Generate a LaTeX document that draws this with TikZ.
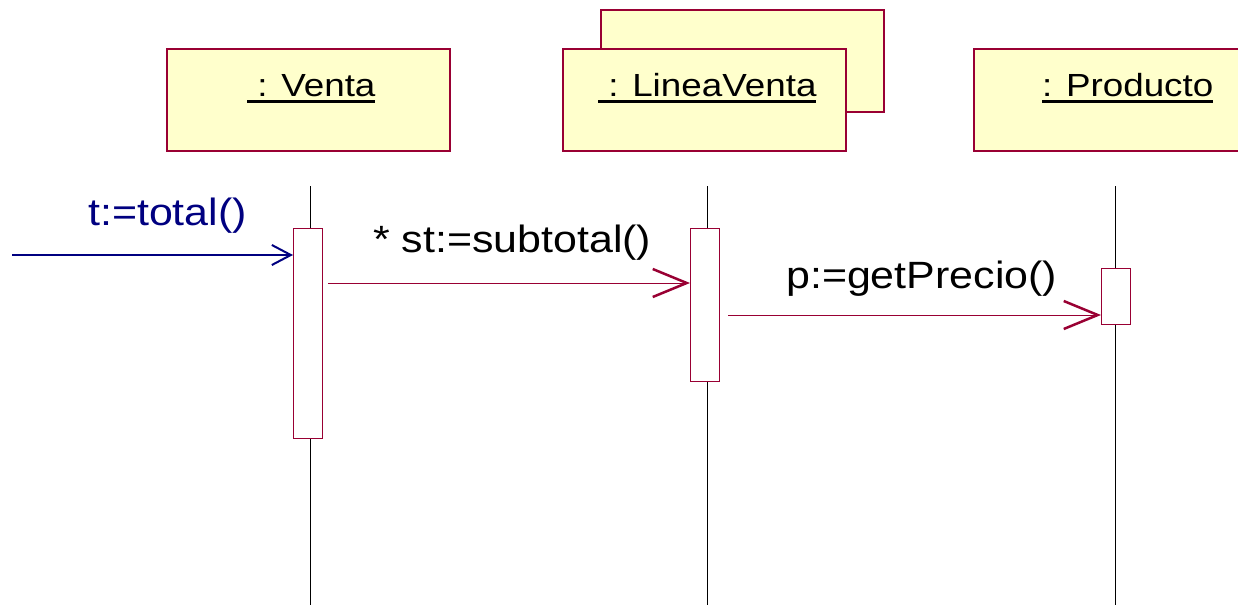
\documentclass[tikz,border=0pt]{standalone}
\usepackage{fontspec}
\setmainfont{Liberation Sans}
\newfontfamily\lblfont[FakeStretch=1.15]{Liberation Sans}
\newfontfamily\msgfont[FakeStretch=1.13]{Liberation Sans}
\usetikzlibrary{arrows.meta}
\definecolor{boxfill}{RGB}{255,255,204}
\definecolor{maroonc}{RGB}{153,0,51}
\definecolor{navyb}{RGB}{0,0,128}
\newcommand\myul[1]{\setbox0\hbox{#1}\rlap{\rule[-7pt]{\wd0}{3pt}}\box0}
\begin{document}
\begin{tikzpicture}[x=1pt,y=-1pt,
 objbox/.style={draw=maroonc, fill=boxfill, line width=1.5pt, minimum width=283pt, minimum height=102pt, inner sep=0, anchor=north west},
 act/.style={draw=maroonc, fill=white, line width=1.2pt, minimum width=29pt, inner sep=0, anchor=north west},
 life/.style={black, line width=1pt},
 msg/.style={maroonc, line width=1pt, -{Straight Barb[length=34pt,width=28pt,line width=2.5pt]}},
 lbl/.style={font=\lblfont\fontsize{32}{38}\selectfont, anchor=base west, inner sep=0},
 msglbl/.style={font=\msgfont\fontsize{38}{44}\selectfont, anchor=base west, inner sep=0}]
\useasboundingbox (0,0) rectangle (1238,605);
\clip (0,0) rectangle (1238,605);
% object boxes
\node[objbox] (venta) at (166,48) {};
\node[objbox] (lineaback) at (600,9) {};
\node[objbox] (linea) at (562,48) {};
\node[objbox] (producto) at (973,48) {};
\node[lbl] (vlbl) at (247,96) {\myul{\ : Venta}};
\node[lbl] (llbl) at (598,96) {\myul{\ : LineaVenta}};
\node[lbl] (plbl) at (1042,96) {\myul{: Producto}};
% lifelines
\coordinate (vtop) at (310,186); \coordinate (vbot) at (310,605);
\coordinate (ltop) at (707,186); \coordinate (lbot) at (707,605);
\coordinate (ptop) at (1115,186); \coordinate (pbot) at (1115,605);
\draw[life] (vtop) -- (vbot);
\draw[life] (ltop) -- (lbot);
\draw[life] (ptop) -- (pbot);
% activations
\node[act, minimum height=210pt] (vact) at (293,228) {};
\node[act, minimum height=153pt] (lact) at (690,228) {};
\node[act, minimum height=56pt] (pact) at (1101,268) {};
% messages
\coordinate (m1s) at (12,255);
\coordinate (m2) at (0,283);
\coordinate (m3) at (0,315);
\draw[navyb, line width=2pt, -{Straight Barb[length=19pt,width=20pt,line width=2pt]}] (m1s) -- (vact.west |- m1s);
\draw[msg, shorten <=5pt] (vact.east |- m2) -- (lact.west |- m2);
\draw[msg, shorten <=8pt] (lact.east |- m3) -- (pact.west |- m3);
\node[msglbl, text=navyb] (l1) at (88,225) {t:=total()};
\node[msglbl] (l2) at (373,252) {* st:=subtotal()};
\node[msglbl] (l3) at (786,288) {p:=getPrecio()};
\end{tikzpicture}
\end{document}
